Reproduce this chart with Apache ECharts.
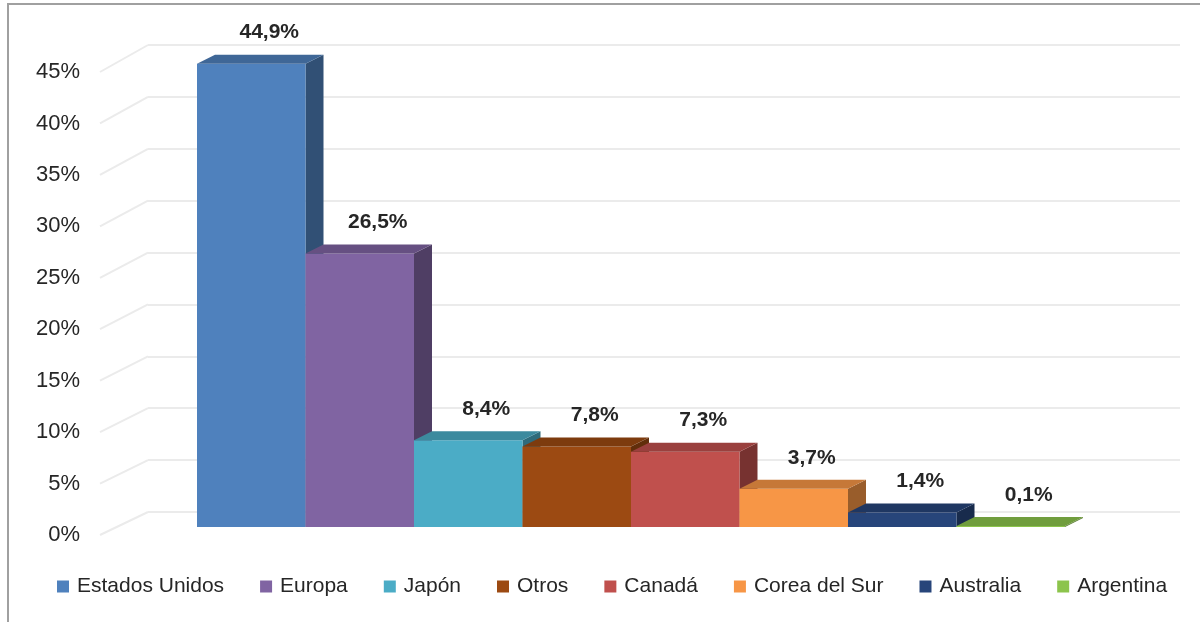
<!DOCTYPE html>
<html>
<head>
<meta charset="utf-8">
<title>Distribución por país</title>
<script src="https://cdn.jsdelivr.net/npm/echarts@6/dist/echarts.min.js"></script>
<style>
    html, body { margin: 0; padding: 0; background: #ffffff; }
    #chart { width: 1200px; height: 622px; }
</style>
</head>
<body>
<div id="chart"></div>
<script>
// datos del gráfico
var categories = ['Estados Unidos', 'Europa', 'Japón', 'Otros', 'Canadá', 'Corea del Sur', 'Australia', 'Argentina'];
var values = [44.9, 26.5, 8.4, 7.8, 7.3, 3.7, 1.4, 0.1];
var valueLabels = ['44,9%', '26,5%', '8,4%', '7,8%', '7,3%', '3,7%', '1,4%', '0,1%'];
var yTicks = [0, 5, 10, 15, 20, 25, 30, 35, 40, 45];

(function(window, document, undefined) {
    var palette = ['#4F81BD', '#8064A2', '#4BACC6', '#9C4A12', '#C0504D', '#F79646', '#27457A', '#8CC44C'];
    var FONT = '"Liberation Sans", Arial, sans-serif';
    var TEXT = '#262626';
    var GRID = '#ebebeb';
    var DEPTH_X = 18, DEPTH_Y = -9;   // profundidad de las barras
    var WALL_X = 48;                  // profundidad de la pared lateral

    // oscurecer un color hex
    var shade = function(hex, k) {
        var n = parseInt(hex.slice(1), 16);
        var r = Math.round(((n >> 16) & 255) * k);
        var g = Math.round(((n >> 8) & 255) * k);
        var b = Math.round((n & 255) * k);
        return 'rgb(' + r + ',' + g + ',' + b + ')';
    };

    /*
      barra 3D: frente, lateral y tapa
     */
    var renderBar = function(params, api) {
        var top = api.coord([api.value(0), api.value(1)]);
        var base = api.coord([api.value(0), 0]);
        var w = api.size([1, 0])[0];
        var x = top[0] - w / 2;
        var color = palette[params.seriesIndex];
        return {
            type: 'group',
            children: [{
                type: 'polygon',
                shape: { points: [[x + w, top[1]], [x + w + DEPTH_X, top[1] + DEPTH_Y], [x + w + DEPTH_X, base[1] + DEPTH_Y], [x + w, base[1]]] },
                style: { fill: shade(color, 0.62) }
            }, {
                type: 'rect',
                shape: { x: x, y: top[1], width: w, height: base[1] - top[1] },
                style: { fill: color }
            }, {
                type: 'polygon',
                shape: { points: [[x, top[1]], [x + DEPTH_X, top[1] + DEPTH_Y], [x + w + DEPTH_X, top[1] + DEPTH_Y], [x + w, top[1]]] },
                style: { fill: shade(color, 0.8) }
            }, {
                type: 'text',
                x: x + w / 2 + DEPTH_X,
                y: top[1] + DEPTH_Y - 22,
                style: {
                    text: valueLabels[api.value(2)],
                    fill: TEXT,
                    font: 'bold 21px ' + FONT,
                    align: 'center',
                    verticalAlign: 'middle'
                }
            }]
        };
    };

    // líneas inclinadas de la pared lateral (perspectiva leve)
    var renderWall = function(params, api) {
        var v = api.value(0);
        var p = api.coord([0, v]);
        return {
            type: 'line',
            shape: { x1: p[0], y1: p[1], x2: p[0] + WALL_X, y2: p[1] - 23 - 4 * v / 45 },
            style: { stroke: GRID, lineWidth: 2 }
        };
    };

    var series = categories.map(function(name, i) {
        return {
            name: name,
            type: 'custom',
            xAxisIndex: 0,
            yAxisIndex: 0,
            z: 3,
            itemStyle: { color: palette[i] },
            renderItem: renderBar,
            data: [[name, values[i], i]]
        };
    });
    series.push({
        type: 'custom',
        xAxisIndex: 2,
        yAxisIndex: 2,
        z: 1,
        silent: true,
        renderItem: renderWall,
        data: yTicks.map(function(v) { return [v]; })
    });

    var option = {
        backgroundColor: '#ffffff',
        animation: false,
        graphic: [{
            type: 'rect',
            shape: { x: 8, y: 4, width: 1400, height: 800 },
            style: { fill: 'none', stroke: '#a0a0a0', lineWidth: 2 },
            z: 0
        }],
        legend: {
            data: categories,
            left: 52,
            top: 571,
            icon: 'rect',
            itemWidth: 12,
            itemHeight: 12,
            itemGap: 36,
            textStyle: { fontFamily: FONT, fontSize: 21, color: TEXT, padding: [0, 0, 0, 3] }
        },
        grid: [
            { left: 197, right: 135, top: 62.6, bottom: 95 },   // barras
            { left: 148, right: 20, top: 45, bottom: 110 },     // pared del fondo
            { left: 100, width: 48, top: 72, bottom: 87 }       // pared lateral
        ],
        xAxis: [
            { gridIndex: 0, type: 'category', data: categories, show: false },
            { gridIndex: 1, type: 'value', show: false },
            { gridIndex: 2, type: 'value', min: 0, max: 1, show: false }
        ],
        yAxis: [
            { gridIndex: 0, type: 'value', min: 0, max: 45, show: false },
            {
                gridIndex: 1, type: 'value', min: 0, max: 45, interval: 5,
                axisLine: { show: false }, axisTick: { show: false }, axisLabel: { show: false },
                splitLine: { lineStyle: { color: GRID, width: 2 } }
            },
            {
                gridIndex: 2, type: 'value', min: 0, max: 45, interval: 5,
                axisLine: { show: false }, axisTick: { show: false }, splitLine: { show: false },
                axisLabel: { margin: 20, formatter: '{value}%', fontFamily: FONT, fontSize: 22, color: TEXT }
            }
        ],
        series: series
    };

    var myChart = echarts.init(document.getElementById('chart'));
    myChart.setOption(option);
}(window, document));
</script>
</body>
</html>
